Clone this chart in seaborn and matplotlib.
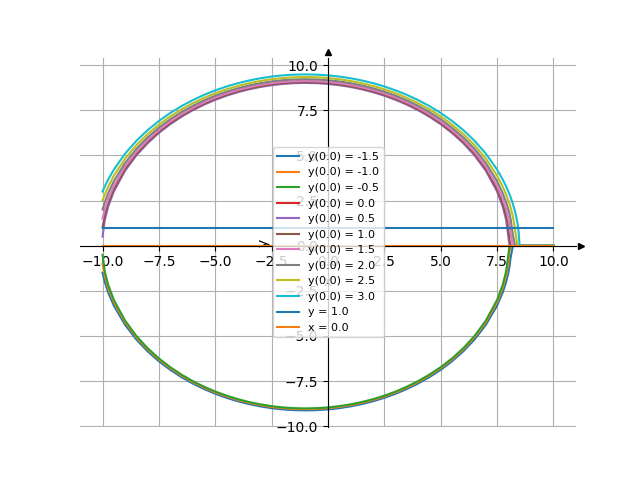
import numpy as np
import pandas as pd
import matplotlib
matplotlib.use("Agg")
import matplotlib.pyplot as plt
import seaborn as sns

X = [-10.0, -9.9, -9.75, -9.5, -9.0, -8.5, -8.0, -7.5, -7.0, -6.5, -6.0, -5.5,
     -5.0, -4.5, -4.0, -3.5, -3.0, -2.5, -2.0, -1.5, -1.0, -0.5, 0.0, 0.5,
     1.0, 1.5, 2.0, 2.5, 3.0, 3.5, 4.0, 4.5, 5.0, 5.5, 6.0, 6.5, 7.0, 7.5,
     7.75, 7.9, 8.0, 8.05, 8.1, 8.2, 8.3, 8.4, 8.45, 8.5, 10.0]

# starting values of each solution curve (legend labels)
Y0 = [-1.5, -1.0, -0.5, 0.0, 0.5, 1.0, 1.5, 2.0, 2.5, 3.0]

Y_M15 = [-1.5, -2.010, -2.586, -3.317, -4.387, -5.196, -5.852, -6.403, -6.874,
         -7.280, -7.632, -7.937, -8.201, -8.426, -8.617, -8.775, -8.902, -9.0,
         -9.069, -9.110, -9.124, -9.110, -9.069, -9.0, -8.902, -8.775, -8.617,
         -8.426, -8.201, -7.937, -7.632, -7.280, -6.874, -6.403, -5.852, -5.196,
         -4.387, -3.317, -2.586, -2.010, -1.5, -1.161, -0.663, 0.0, 0.0, 0.0,
         0.0, 0.0, 0.0]
Y_M10 = [-1.0, -1.670, -2.332, -3.122, -4.243, -5.074, -5.745, -6.305, -6.782,
         -7.194, -7.550, -7.858, -8.124, -8.352, -8.544, -8.703, -8.832, -8.930,
         -9.0, -9.042, -9.055, -9.042, -9.0, -8.930, -8.832, -8.703, -8.544,
         -8.352, -8.124, -7.858, -7.550, -7.194, -6.782, -6.305, -5.745, -5.074,
         -4.243, -3.122, -2.332, -1.670, -1.0, -0.312, 0.0, 0.0, 0.0, 0.0,
         0.0, 0.0, 0.0]
Y_M05 = [-0.5, -1.428, -2.165, -3.0, -4.153, -5.0, -5.679, -6.245, -6.727,
         -7.141, -7.5, -7.810, -8.078, -8.307, -8.5, -8.660, -8.789, -8.888,
         -8.958, -9.0, -9.014, -9.0, -8.958, -8.888, -8.789, -8.660, -8.5,
         -8.307, -8.078, -7.810, -7.5, -7.141, -6.727, -6.245, -5.679, -5.0,
         -4.153, -3.0, -2.165, -1.428, -0.5, 0.0, 0.0, 0.0, 0.0, 0.0,
         0.0, 0.0, 0.0]
Y_00 = [0.0, 0.0, 0.0, 0.0, 0.0, 0.0, 0.0, 0.0, 0.0, 0.0, 0.0, 0.0, 0.0, 0.0,
        0.0, 0.0, 0.0, 0.0, 0.0, 0.0, 0.0, 0.0, 0.0, 0.0, 0.0, 0.0, 0.0, 0.0,
        0.0, 0.0, 0.0, 0.0, 0.0, 0.0, 0.0, 0.0, 0.0, 0.0, 0.0, 0.0, 0.0, 0.0,
        0.0, 0.0, 0.0, 0.0, 0.0, 0.0, 0.0]
Y_05 = [0.5, 1.428, 2.165, 3.0, 4.153, 5.0, 5.679, 6.245, 6.727,
        7.141, 7.5, 7.810, 8.078, 8.307, 8.5, 8.660, 8.789, 8.888,
        8.958, 9.0, 9.014, 9.0, 8.958, 8.888, 8.789, 8.660, 8.5,
        8.307, 8.078, 7.810, 7.5, 7.141, 6.727, 6.245, 5.679, 5.0,
        4.153, 3.0, 2.165, 1.428, 0.5, 0.0, 0.0, 0.0, 0.0, 0.0,
        0.0, 0.0, 0.0]
Y_10 = [1.0, 1.670, 2.332, 3.122, 4.243, 5.074, 5.745, 6.305, 6.782,
        7.194, 7.550, 7.858, 8.124, 8.352, 8.544, 8.703, 8.832, 8.930,
        9.0, 9.042, 9.055, 9.042, 9.0, 8.930, 8.832, 8.703, 8.544,
        8.352, 8.124, 7.858, 7.550, 7.194, 6.782, 6.305, 5.745, 5.074,
        4.243, 3.122, 2.332, 1.670, 1.0, 0.312, 0.0, 0.0, 0.0, 0.0,
        0.0, 0.0, 0.0]
Y_15 = [1.5, 2.010, 2.586, 3.317, 4.387, 5.196, 5.852, 6.403, 6.874,
        7.280, 7.632, 7.937, 8.201, 8.426, 8.617, 8.775, 8.902, 9.0,
        9.069, 9.110, 9.124, 9.110, 9.069, 9.0, 8.902, 8.775, 8.617,
        8.426, 8.201, 7.937, 7.632, 7.280, 6.874, 6.403, 5.852, 5.196,
        4.387, 3.317, 2.586, 2.010, 1.5, 1.161, 0.663, 0.0, 0.0, 0.0,
        0.0, 0.0, 0.0]
Y_20 = [2.0, 2.406, 2.905, 3.571, 4.583, 5.362, 6.0, 6.538, 7.0,
        7.399, 7.746, 8.047, 8.307, 8.529, 8.718, 8.874, 9.0, 9.097,
        9.165, 9.206, 9.220, 9.206, 9.165, 9.097, 9.0, 8.874, 8.718,
        8.529, 8.307, 8.047, 7.746, 7.399, 7.0, 6.538, 6.0, 5.362,
        4.583, 3.571, 2.905, 2.406, 2.0, 1.760, 1.480, 0.6, 0.0, 0.0,
        0.0, 0.0, 0.0]
Y_25 = [2.5, 2.835, 3.269, 3.873, 4.822, 5.568, 6.185, 6.708, 7.159,
        7.550, 7.890, 8.185, 8.441, 8.660, 8.846, 9.0, 9.124, 9.220,
        9.287, 9.327, 9.341, 9.327, 9.287, 9.220, 9.124, 9.0, 8.846,
        8.660, 8.441, 8.185, 7.890, 7.550, 7.159, 6.708, 6.185, 5.568,
        4.822, 3.873, 3.269, 2.835, 2.5, 2.312, 2.107, 1.616, 0.872, 0.0,
        0.0, 0.0, 0.0]
Y_30 = [3.0, 3.285, 3.666, 4.213, 5.099, 5.809, 6.403, 6.910, 7.348,
        7.730, 8.062, 8.352, 8.602, 8.818, 9.0, 9.151, 9.274, 9.367,
        9.434, 9.474, 9.487, 9.474, 9.434, 9.367, 9.274, 9.151, 9.0,
        8.818, 8.602, 8.352, 8.062, 7.730, 7.348, 6.910, 6.403, 5.809,
        5.099, 4.213, 3.666, 3.285, 3.0, 2.846, 2.681, 2.315, 1.873, 1.281,
        0.835, 0.0, 0.0]

CURVES = [Y_M15, Y_M10, Y_M05, Y_00, Y_05, Y_10, Y_15, Y_20, Y_25, Y_30]

# reference lines
LINE_X = [-10.0, 10.0]
LINE_Y1 = [1.0, 1.0]
LINE_X0 = [0.0, 0.0]

colors = sns.color_palette("tab10", 10)

fig, ax = plt.subplots(figsize=(6.4, 4.8), dpi=100)

for i, (y0, ys) in enumerate(zip(Y0, CURVES)):
    sns.lineplot(x=X, y=ys, ax=ax, color=colors[i], sort=False,
                 estimator=None, label=f"y(0.0) = {y0}", linewidth=1.5)

sns.lineplot(x=LINE_X, y=LINE_Y1, ax=ax, color=colors[0], sort=False,
             estimator=None, label="y = 1.0", linewidth=1.5)
sns.lineplot(x=LINE_X, y=LINE_X0, ax=ax, color=colors[1], sort=False,
             estimator=None, label="x = 0.0", linewidth=1.5)

# axes through the origin with arrow heads
ax.spines["left"].set_position("zero")
ax.spines["bottom"].set_position("zero")
ax.spines["top"].set_visible(False)
ax.spines["right"].set_visible(False)
ax.plot(1.011, 0, ">k", ms=5, transform=ax.get_yaxis_transform(), clip_on=False)
ax.plot(0, 1.016, "^k", ms=5, transform=ax.get_xaxis_transform(), clip_on=False)

ax.set_xlabel("x")
ax.set_ylabel("y")
ax.grid(True)
ax.legend(loc="center", fontsize=8)

fig.savefig("out.png", dpi=100)
